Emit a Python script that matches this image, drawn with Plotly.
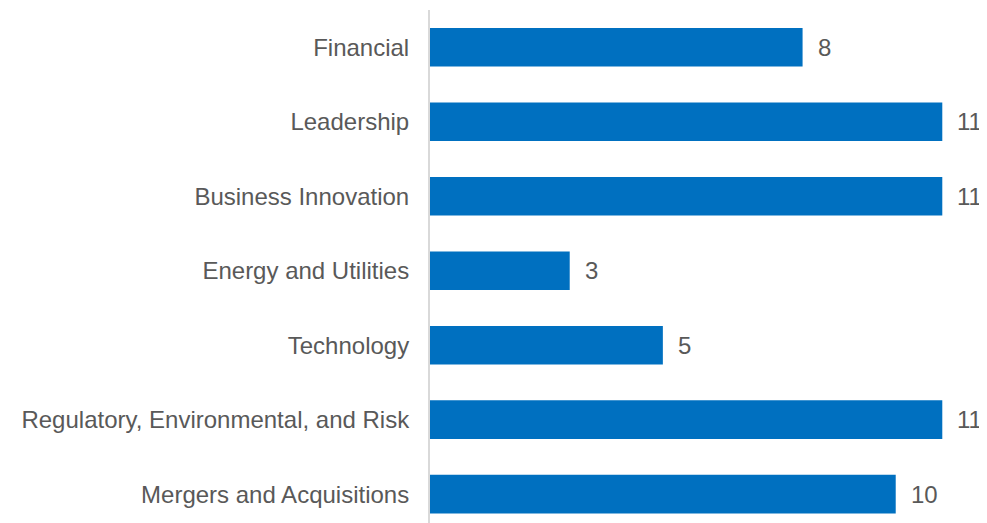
import plotly.graph_objects as go

categories = [
    "Financial",
    "Leadership",
    "Business Innovation",
    "Energy and Utilities",
    "Technology",
    "Regulatory, Environmental, and Risk",
    "Mergers and Acquisitions",
]
values = [8, 11, 11, 3, 5, 11, 10]

BAR_COLOR = "#0070C0"
TEXT_COLOR = "#595959"
FONT = "Liberation Sans, Arial, sans-serif"

fig = go.Figure()
fig.add_trace(go.Bar(
    x=values,
    y=categories,
    orientation="h",
    marker=dict(color=BAR_COLOR, line=dict(width=0)),
    hoverinfo="skip",
))

for c, v in zip(categories, values):
    fig.add_annotation(
        x=v, y=c, text=str(v), showarrow=False,
        xanchor="left", yanchor="middle", xshift=13,
        font=dict(family=FONT, size=24, color=TEXT_COLOR),
    )

fig.update_layout(
    width=979,
    height=515,
    margin=dict(l=422, r=0, t=2, b=0, autoexpand=False),
    paper_bgcolor="white",
    plot_bgcolor="white",
    bargap=0.48,
    showlegend=False,
    font=dict(family=FONT, size=24, color=TEXT_COLOR),
)
fig.update_xaxes(
    range=[0, 11.96],
    showgrid=False,
    zeroline=False,
    showticklabels=False,
    showline=False,
    ticks="",
)
fig.update_yaxes(
    categoryorder="array",
    categoryarray=categories,
    range=[6.386, -0.5],
    showgrid=False,
    zeroline=False,
    showline=True,
    linecolor="#D9D9D9",
    linewidth=2,
    ticks="",
    ticklabelstandoff=14,
    tickfont=dict(family=FONT, size=24, color=TEXT_COLOR),
)

fig.write_html("out.html")
